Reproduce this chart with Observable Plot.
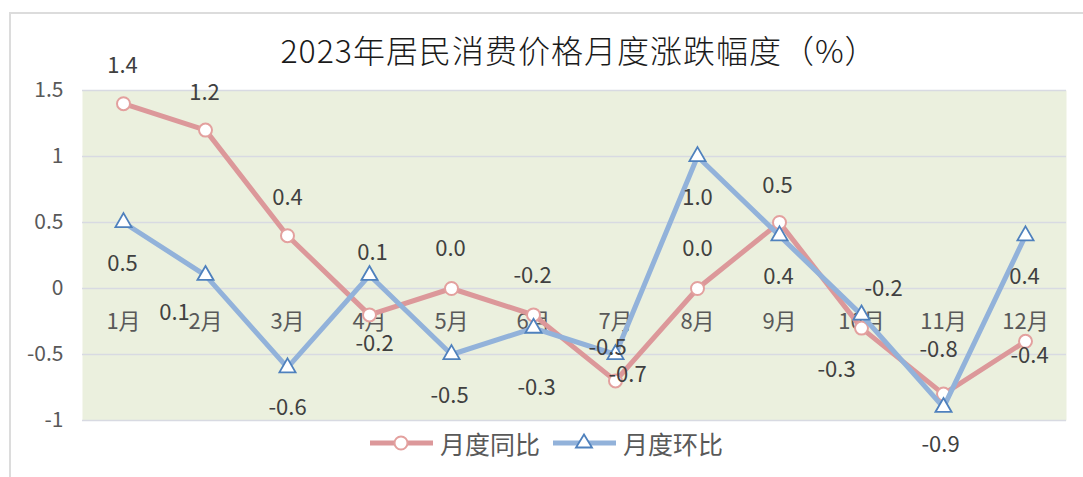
<!DOCTYPE html>
<html>
<head>
<meta charset="utf-8">
<script src="https://cdn.jsdelivr.net/npm/d3@7"></script>
<script src="https://cdn.jsdelivr.net/npm/@observablehq/plot@0.6"></script>
<style>
  html, body { margin: 0; padding: 0; background: #ffffff; overflow: hidden; }
  body { width: 1083px; height: 477px; position: relative; font-family: "Noto Sans CJK SC", "Noto Sans", sans-serif; }
  #border { position: absolute; left: 9px; top: 12px; width: 1200px; height: 600px; border: 2px solid #dcdcdc; box-sizing: border-box; pointer-events: none; }
  #chart { position: absolute; left: 0; top: 0; }
  #title { position: absolute; left: 579px; top: 28px; transform: translateX(-50%); font-size: 32px; font-weight: 300; letter-spacing: 1px; line-height: 42px; color: #1a1a1a; white-space: nowrap; }
  .legend-item { position: absolute; top: 428px; height: 30px; display: flex; align-items: center; font-size: 25px; color: #595959; white-space: nowrap; }
  .legend-item svg { margin-right: 7px; }
</style>
</head>
<body>
<div id="border"></div>
<div id="chart"></div>
<div id="title"></div>
<div id="legend"></div>
<script>
// ---- data ----
const chartTitle = "2023年居民消费价格月度涨跌幅度（%）";
const months = ["1月","2月","3月","4月","5月","6月","7月","8月","9月","10月","11月","12月"];
const seriesNames = ["月度同比", "月度环比"];
const yoy = [1.4, 1.2, 0.4, -0.2, 0.0, -0.2, -0.7, 0.0, 0.5, -0.3, -0.8, -0.4];
const mom = [0.5, 0.1, -0.6, 0.1, -0.5, -0.3, -0.5, 1.0, 0.4, -0.2, -0.9, 0.4];
const yTicks = [-1, -0.5, 0, 0.5, 1, 1.5];

// ---- label placement (pixel offsets of each data label from its point) ----
const yoyLabelOffset = [[-1,-38],[-1,-37],[0,-38],[5,29],[-1,-40],[-1,-39],[12,-6],[0,-40],[-2,-37],[-25,42],[-5,-44],[4,15]];
const momLabelOffset = [[-1,41],[-31,38],[0,40],[3,-22],[-2,41],[3,60],[-8,-7],[0,41],[-1,41],[22,-26],[-3,38],[-1,41]];

// ---- styles ----
const red = "#DC989A";
const redMarker = "#E3A09E";
const blue = "#92B2DA";
const blueMarker = "#4F81BD";
const plotBg = "#EBF0DE";
const gridColor = "#D8DAE2";
const labelColor = "#404040";

document.getElementById("title").textContent = chartTitle;

const rowsYoy = yoy.map((v, i) => ({month: months[i], value: v}));
const rowsMom = mom.map((v, i) => ({month: months[i], value: v}));

const labelMarks = (rows, offsets) => rows.map((r, i) =>
  Plot.text([r], {
    x: "month", y: "value", text: d => d.value.toFixed(1),
    dx: offsets[i][0], dy: offsets[i][1],
    fontSize: 22, fill: labelColor
  })
);

const chart = Plot.plot({
  width: 1083,
  height: 477,
  marginTop: 90,
  marginBottom: 57,
  marginLeft: 82,
  marginRight: 17,
  style: {background: "transparent", fontFamily: "'Noto Sans CJK SC', 'Noto Sans', sans-serif", fontSize: "21px", color: "#595959"},
  x: {type: "point", domain: months, axis: null},
  y: {domain: [-1, 1.5], ticks: yTicks, tickSize: 0, tickPadding: 19, tickFormat: d => String(d), label: null},
  marks: [
    Plot.frame({fill: plotBg, stroke: null}),
    Plot.ruleY(yTicks, {stroke: gridColor, strokeWidth: 1.5}),
    Plot.text(months, {x: d => d, y: () => 0, dy: 33, fontSize: 22, fill: "#595959"}),
    Plot.line(rowsYoy, {x: "month", y: "value", stroke: red, strokeWidth: 5, strokeLinejoin: "round"}),
    Plot.dot(rowsYoy, {x: "month", y: "value", r: 6.5, fill: "white", stroke: redMarker, strokeWidth: 2}),
    Plot.line(rowsMom, {x: "month", y: "value", stroke: blue, strokeWidth: 5, strokeLinejoin: "round"}),
    Plot.dot(rowsMom, {x: "month", y: "value", symbol: "triangle", r: 6, fill: "white", stroke: blueMarker, strokeWidth: 1.8}),
    ...labelMarks(rowsYoy, yoyLabelOffset),
    ...labelMarks(rowsMom, momLabelOffset)
  ]
});
document.getElementById("chart").appendChild(chart);

// ---- legend ----
const legend = document.getElementById("legend");
const legendDefs = [
  {name: seriesNames[0], left: 370, line: red, marker: `<circle cx="31" cy="15" r="6.5" fill="white" stroke="${redMarker}" stroke-width="2"/>`},
  {name: seriesNames[1], left: 553, line: blue, marker: `<path d="M31,6.5 L39,19.5 L23,19.5 Z" fill="white" stroke="${blueMarker}" stroke-width="1.8"/>`}
];
for (const d of legendDefs) {
  const item = document.createElement("div");
  item.className = "legend-item";
  item.style.left = d.left + "px";
  item.innerHTML = `<svg width="63" height="30"><line x1="0" x2="63" y1="15" y2="15" stroke="${d.line}" stroke-width="5"/>${d.marker}</svg><span>${d.name}</span>`;
  legend.appendChild(item);
}
</script>
</body>
</html>
